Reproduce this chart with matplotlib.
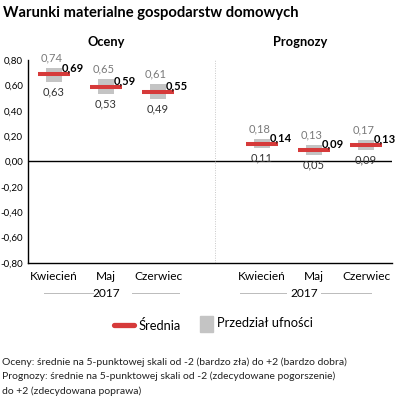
import matplotlib.pyplot as plt
from matplotlib.lines import Line2D
from matplotlib.patches import Rectangle

plt.rcParams['font.family'] = ['Lato', 'DejaVu Sans']
plt.rcParams['axes.unicode_minus'] = False

# data
months = ["Kwiecień", "Maj", "Czerwiec"]
oceny_mean = [0.69, 0.59, 0.55]
oceny_low = [0.63, 0.53, 0.49]
oceny_high = [0.74, 0.65, 0.61]
prog_mean = [0.14, 0.09, 0.13]
prog_low = [0.11, 0.05, 0.09]
prog_high = [0.18, 0.13, 0.17]
year = "2017"
yticks = [0.8, 0.6, 0.4, 0.2, 0.0, -0.2, -0.4, -0.6, -0.8]

RED = "#d63a3a"
GREY = "#c4c4c4"

# layout
left_pos = [0, 1, 2]
right_pos = [4, 5, 6]
divider_x = 3.1
bar_w = 0.31
line_w = 0.6

fig = plt.figure(figsize=(4.0, 3.99), dpi=100)
ax = fig.add_axes([0.07, 0.3409, 0.91, 0.5088])
ax.set_xlim(-0.5, 6.5)
ax.set_ylim(-0.8, 0.8)

for pos, m, lo, hi in zip(left_pos + right_pos, oceny_mean + prog_mean,
                          oceny_low + prog_low, oceny_high + prog_high):
    ax.bar(pos, hi - lo, bottom=lo, width=bar_w, color=GREY, zorder=2)
    ax.plot([pos - line_w / 2, pos + line_w / 2], [m, m], color=RED, lw=2.9,
            solid_capstyle='butt', zorder=3)
    ax.text(pos - 0.05, hi + 0.035, f"{hi:.2f}".replace(".", ","), ha='center',
            va='bottom', fontsize=8, color="#7a7a7a")
    ax.text(pos, lo - 0.035, f"{lo:.2f}".replace(".", ","), ha='center',
            va='top', fontsize=8, color="#333333")
    ax.text(pos + bar_w / 2, m + 0.005, f"{m:.2f}".replace(".", ","), ha='left',
            va='bottom', fontsize=8, fontweight='bold', color="black", zorder=4)

ax.axhline(0, color="black", lw=1, zorder=1)
ax.axvline(divider_x, color="#c8c8c8", lw=0.7, ls=(0, (1, 1.5)), zorder=1)

ax.set_yticks(yticks)
ax.set_yticklabels([f"{v:.2f}".replace(".", ",") for v in yticks], fontsize=7)
ax.tick_params(axis='y', length=0, pad=3.5)
ax.set_xticks([])
for s in ["top", "right"]:
    ax.spines[s].set_visible(False)
for s in ["left", "bottom"]:
    ax.spines[s].set_color("black")
    ax.spines[s].set_linewidth(1)

trans = ax.get_xaxis_transform()
for pos, name in zip(left_pos + right_pos, months + months):
    ax.text(pos, -0.04, name, transform=trans, ha='center', va='top', fontsize=8.6)

# year labels with side rules
for cx, spans in [(1.0, [(-0.2, 0.75), (1.5, 2.4)]),
                  (4.81, [(3.58, 4.47), (5.14, 6.1)])]:
    ax.text(cx, -0.15, year, transform=trans, ha='center', va='center', fontsize=8.6)
    for a, b in spans:
        ax.add_line(Line2D([a, b], [-0.15, -0.15], transform=trans, color="#bbbbbb",
                           lw=0.7, clip_on=False))

ax.text(1.0, 1.09, "Oceny", transform=trans, ha='center', va='center',
        fontsize=9.3, fontweight='bold')
ax.text(4.74, 1.09, "Prognozy", transform=trans, ha='center', va='center',
        fontsize=9.3, fontweight='bold')

fig.text(0.008, 0.967, "Warunki materialne gospodarstw domowych", ha='left',
         va='center', fontsize=10.6, fontweight='bold')

# legend
fig.add_artist(Line2D([114 / 400, 134 / 400], [1 - 325 / 399] * 2, color=RED, lw=3.8,
                      solid_capstyle='round'))
fig.text(139 / 400, 1 - 326 / 399, "Średnia", ha='left', va='center', fontsize=9.3)
fig.add_artist(Rectangle((200 / 400, 1 - 332 / 399), 13 / 400, 16 / 399, color=GREY))
fig.text(217 / 400, 1 - 323 / 399, "Przedział ufności", ha='left', va='center', fontsize=9.3)

notes = ["Oceny: średnie na 5-punktowej skali od -2 (bardzo zła) do +2 (bardzo dobra)",
         "Prognozy: średnie na 5-punktowej skali od -2 (zdecydowane pogorszenie)",
         "do +2 (zdecydowana poprawa)"]
for i, line in enumerate(notes):
    fig.text(0.005, 1 - (362 + 14.7 * i) / 399, line, ha='left', va='center',
             fontsize=7.5, color="#222222")

fig.savefig("out.png", dpi=100)
